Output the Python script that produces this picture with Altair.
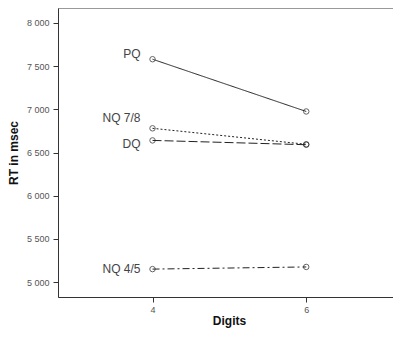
import altair as alt
import pandas as pd

series = ["PQ", "NQ 7/8", "DQ", "NQ 4/5"]
digits = [4, 6]
rt_values = {
    "PQ": [7580, 6975],
    "NQ 7/8": [6780, 6595],
    "DQ": [6640, 6590],
    "NQ 4/5": [5150, 5175],
}
label_rt = [7640, 6900, 6596, 5150]
dashes = [[1, 0], [2, 2], [9, 3], [7, 3, 2, 3]]
y_ticks = [5000, 5500, 6000, 6500, 7000, 7500, 8000]

rows = []
for s in series:
    for d, v in zip(digits, rt_values[s]):
        rows.append({"series": s, "digits": d, "rt": v})
df = pd.DataFrame(rows)
lab = pd.DataFrame({"series": series, "digits": [4] * 4, "rt": label_rt})

xs = alt.Scale(domain=[2.77, 7.22], nice=False, zero=False)
ys = alt.Scale(domain=[4827, 8173], nice=False, zero=False)

x_axis = alt.Axis(values=digits, format="d", title="Digits", grid=False, labelFontSize=9,
                  labelColor="#555", tickColor="#333", domainColor="#333",
                  tickSize=5, labelPadding=3, titleFontSize=12, titleFontWeight="bold",
                  titleColor="#111", titlePadding=1, titleFont="Liberation Sans",
                  labelFont="Liberation Sans")
y_axis = alt.Axis(values=y_ticks, title="RT in msec", grid=False, labelFontSize=9,
                  labelColor="#555", tickColor="#333", domainColor="#333",
                  tickSize=5, labelPadding=4,
                  labelExpr="replace(format(datum.value, ','), ',', ' ')",
                  titleFontSize=12, titleFontWeight="bold", titleColor="#111",
                  titlePadding=6, titleFont="Liberation Sans", labelFont="Liberation Sans")

base = alt.Chart(df)
lines = base.mark_line(color="#222", strokeWidth=1).encode(
    x=alt.X("digits:Q", scale=xs, axis=x_axis),
    y=alt.Y("rt:Q", scale=ys, axis=y_axis),
    strokeDash=alt.StrokeDash("series:N", scale=alt.Scale(domain=series, range=dashes), legend=None),
    detail="series:N",
)
pts = base.mark_point(shape="circle", filled=False, color="#222", size=30, strokeWidth=1).encode(
    x=alt.X("digits:Q", scale=xs),
    y=alt.Y("rt:Q", scale=ys),
)
labels = alt.Chart(lab).mark_text(align="right", baseline="middle", dx=-12, fontSize=12,
                                  color="#444", font="Liberation Sans").encode(
    x=alt.X("digits:Q", scale=xs),
    y=alt.Y("rt:Q", scale=ys),
    text="series:N",
)

chart = (lines + pts + labels).properties(
    width=342, height=289,
    autosize=alt.AutoSizeParams(type="none"),
    padding={"left": 50, "top": 0, "right": -7, "bottom": 32},
).configure_view(stroke="#999", strokeWidth=1)

chart.save("out.html", embed_options={"renderer": "svg", "actions": False})
